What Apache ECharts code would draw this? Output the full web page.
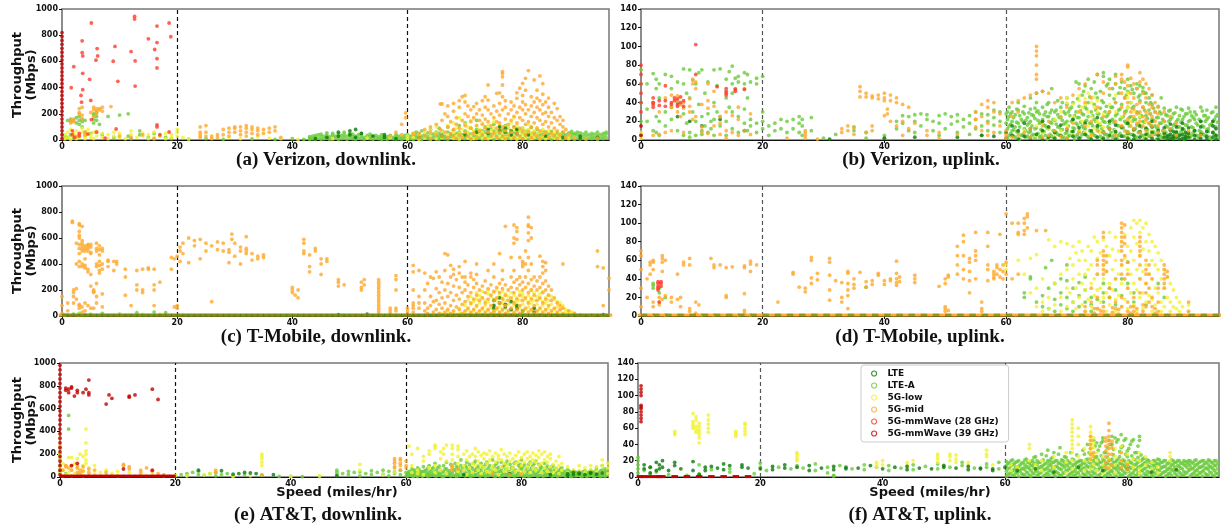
<!DOCTYPE html>
<html><head><meta charset="utf-8">
<script src="https://cdn.jsdelivr.net/npm/echarts@6/dist/echarts.min.js"></script>
<style>html,body{margin:0;padding:0;background:#fff}#c{width:1221px;height:527px}</style>
</head><body><div id="c"></div>
<script>
// ---------- categories & ticks ----------
const categories = ['LTE','LTE-A','5G-low','5G-mid','5G-mmWave (28 GHz)','5G-mmWave (39 GHz)'];
const xTicks = [0,20,40,60,80];
const xMax = 95;
const dlTicks = [0,200,400,600,800,1000];
const ulTicks = [0,20,40,60,80,100,120,140];
const speedMarks = [20,60];
const captions = ['(a) Verizon, downlink.','(b) Verizon, uplink.','(c) T-Mobile, downlink.','(d) T-Mobile, uplink.','(e) AT&T, downlink.','(f) AT&T, uplink.'];

// strips: [speed, throughput1, throughput2, ...]
// rows:   [throughput, speed1, speed2, ...]
// ---------- (a) Verizon downlink ----------
const aLTE = [[44,10],[46,20],[48,30,60],[50,40,70],[51,20,80],[52,50],[54,30],[56,20,40],[58,10],[62,20],[66,30],[70,40],[72,60],[74,50,80],[76,70,100],[77,60,90],[78,40,70],[79,80,50],[81,40],[84,30],[87,20],[90,10,30],[93,20]];
const aLTEA = [[0.5,10,30],[1,20,150],[1.5,40,160,140],[2,150,20],[2.5,170,130],[3,120,150,180],[3.5,100,140,160],[4,30,60,150],[5,50],[5.5,160,190,200,130],[6,150,180,210],[6.5,120],[7,40],[8,180],[9,20],[10,190],[11.5,200,30],[12,10],[13.5,40,70],[15,20],[16,10,50],[17,30],[18,20],[19,10],
[22,5],[25,10],[28,5],[33,8],[37,5],[40,10],[42,5],
[43,5,15,25],[43.5,10,30],[44,5,20,35],[44.5,15,40],[45,5,25,45],[45.5,10,30],[46,20,40,55],[46.5,5,25],[47,10,35,50],[47.5,15,30],[48,5,25,45],[48.5,10,35],[49,20,40,60],[49.5,5,30],[50,15,35,50],[50.5,10,25,45],[51,5,30],[51.5,15,40],[52,10,30,50],[52.5,5,20],[53,15,35],[53.5,10,25,45],[54,5,30],[54.5,15,35],[55,10,25],[55.5,5,20,40],[56,10,30],[56.5,5,25],[57,15,35],[57.5,10,20],[58,5,25,40],[58.5,10,30],[59,5,20],[59.5,15,35],
[60,5,20,40],[60.5,10,30],[61,5,25,45],[61.5,15,35,60],[62,10,20,50],[62.5,5,30,70],[63,15,40],[63.5,10,25,55],[64,5,35,80],[64.5,20,45],[65,10,30,60],[65.5,5,25,50,90],[66,15,40,70],[66.5,10,30],[67,5,20,60,100],[67.5,25,45],[68,10,35,75],[68.5,15,50],[69,5,30,60,110],[69.5,20,40],[70,10,35,70,130],[70.5,25,55],[71,5,45,90],[71.5,15,30,65],[72,10,40,80,150],[72.5,20,50],[73,5,35,70],[73.5,15,60,100],[74,10,30,55],[74.5,25,45,85],[75,5,40,70,120],[75.5,15,30,60],[76,10,50,95],[76.5,20,40,75],[77,5,30,65,110],[77.5,15,45,90],[78,10,35,60],[78.5,25,55,100],[79,5,40,80],[79.5,15,30,70],[80,10,50,90],[80.5,20,40,65],[81,5,35,75],[81.5,15,50,95],[82,10,30,60],[82.5,20,45,80],[83,5,35,55],[83.5,15,40,70],[84,10,30,60],[84.5,20,45],[85,5,35,65],[85.5,15,40],[86,10,30,55],[86.5,20,45],[87,5,35,60],[87.5,15,40],[88,10,30,55],[88.5,20,45,65],[89,5,35,50],[89.5,15,40,60],[90,10,30,55],[90.5,20,45],[91,5,35,60],[91.5,15,40],[92,10,30,50],[92.5,20,45],[93,5,35,60],[93.5,15,40],[94,10,30,50],[94.5,20,45,60]];
const aLow = [[0.5,10,40],[1,20,60],[1.5,5,80],[2,30,50],[2.5,10,70],[3,40,20],[3.5,60,90],[4,10,30],[4.5,50,80],[5,20,40],[5.5,10,60],[6,30,70],[7,20,50],[8,10,40],[9,30,60],[10,20,50],[11,10],[12,40,70],[13,20],[14,30,50],[15,10,40],[16,20,60],[17,30],[18,10,50],[19,20,40],[20,30,60,80],
[21,20],[22,10],[24,30],[26,15],[29,20],[31,10],[34,25],[36,15],[38,10],[41,5],[47,10],[53,15],[57,20],
[60,10,30],[61,20,50],[62,5,40],[63,15,60],[64,30,80],[65,10,50,100],[66,20,70],[67,40,110],[68,15,60,130],[68.5,30,90],[69,10,50,170],[69.5,25,80],[70,40,120],[70.5,15,60,100],[71,30,90,150],[71.5,10,70],[72,20,50,110],[72.5,40,80],[73,15,60,130],[73.5,30,90],[74,10,50,110],[74.5,20,70],[75,40,90,140],[75.5,15,60],[76,30,80,120],[76.5,10,50],[77,20,70,100],[77.5,40,90],[78,15,60,130],[78.5,30,80,170],[79,10,50,110],[79.5,20,70],[80,40,90],[80.5,15,60],[81,30,80,120],[81.5,10,50],[82,20,70],[82.5,40,90],[83,15,60],[83.5,30,80],[84,10,50],[84.5,20,70],[85,40],[85.5,15,60],[86,30],[86.5,10,50],[87,20],[88,10,30],[89,20],[90,10]];
const aMid = [[1.5,150,130],[2,160,140],[2.5,30],[3,200,240,210],[3.5,250,190,160],[4,60,40],[5,210],[5.5,230,250,180],[6,240,220,200],[6.5,230,240],[7,220,250],[8.5,255],[10,30],[12,20],[14,40],[16,10],
[24,20,40,60,100],[25,30,60,110],[26,10,30],[27,20,40],[28,40,80],[29,30,60,90],[30,60,90,100],[31,40,70,100],[32,30,60,90,110],[33,50,80,100],[34,40,70,90],[35,50,80],[36,60,90],[37,100,70],[38,20],
[57,30],[58,60],[59,40,120],[59.7,170,207],[61,50],
[62,20,50],[63,30,80],[64,10,60,100],[65,40,120],[65.7,275,80],[66,30,150,275],[66.5,60,200],[67,20,100,180,260],[67.5,50,140],[68,30,80,220,280],[68.5,10,120,170],[69,40,90,250,300],[69.5,20,150,330],[70,60,110,200,290,340],[70.5,30,180,260],[71,10,90,140,230],[71.5,50,170,255],[72,20,110,200,280],[72.5,70,150,230],[73,40,120,190,300],[73.5,10,90,160,250,330],[74,60,140,230,305,420],[74.5,30,110,200],[75,50,170,260],[75.5,20,90,140,220,356],[76,60,130,190,280,360],[76.5,30,100,230,330,420,483,509,522],[77,10,70,160,250,300],[77.5,40,120,200],[78,60,150,230,290],[78.5,20,100,180,260],[79,50,130,210,318,360],[79.5,30,90,170,250,395],[80,10,70,150,230,290,340,433],[80.5,40,120,200,270,380,471],[81,60,140,230,530],[81.5,20,100,180,260,330],[82,50,130,210,290,458],[82.5,30,90,170,250,320,380],[83,10,70,150,230,300,489],[83.5,40,120,200,270,350,430],[84,60,140,210,290],[84.5,20,100,180,250,320],[85,50,130,210],[85.5,30,90,170,280],[86,10,70,150,240],[86.5,40,120,178],[87,60,100,150],[87.5,20,80],[88,40],[89,20],[91,10],[93,15]];
const a28 = [[1.6,399],[2.05,560],[5.1,893],[3.5,757,667],[3.6,642,509,384],[3.3,340],[3.4,289],[4.8,463],[5.0,302],[5.1,156],[5.9,609],[6.1,698],[6.2,642],[8.9,601],[9.2,714],[9.7,448],[9.4,84],[12.0,675],[12.6,944,923],[12.7,604,412],[15.0,772],[16.1,691],[16.5,870,744,621,550,115,100],[18.6,893,61],[18.9,788],[1.8,70,40],[3,50,30],[2.2,20],[7.5,15],[4.5,45],[6,60],[17,40]];
const a39 = [[0,10,40,70,100,130,160,190,220,250,280,310,340,370,400,430,460,490,520,550,580,610,640,670,700,730,760,790,820]];

// ---------- (b) Verizon uplink ----------
const bLTE = [[6,25],[8,20],[10,15],[13,22],[17,10],[31,1],[40,2],[45,3],[52,3],[56,5],[58,4],
[60,2,8],[61,5,15],[62,1,10],[63,4,18],[64,2,12],[65,6],[66,1,10,20],[67,3,14],[68,2,8],[69,5,16],[70,1,11],[71,4,9,22],[72,2,13],[73,6,18],[74,1,10],[75,3,15,24],[76,2,8],[77,5,12,20],[78,1,9,16],[79,4,14],[80,2,7,18],[81,1,5,11],[82,3,9,15],[83,1,6,12],[84,2,8,14,20],[85,1,5,10],[86,3,7,13],[86.5,1,4],[87,2,6,11,17],[87.5,1,4,9],[88,3,8,14],[88.5,1,5],[89,2,6,12,18],[89.5,1,4,8],[90,3,7,13],[91,1,5,10],[92,2,6,14,20],[93,1,4,9],[94,3,8,15,20],[94.5,1,5,12]];
const bLTEA = [[0,5,20,40,60,75],[1,33,60,20],[2,71,40,10],[2.5,65,55,25,8],[3,20,45,60,5],[4,70,30,15],[5,55,68,35,22],[6,62,10,40],[7,76,60,28,5],[7.5,50,18],[8,75,45,8,3],[8.5,64,30],[9,60,20,5],[9.5,72,38],[10,75,25,10,6],[10.5,50,15],[11,62,28,8],[11.5,20,12],[12,75,40,22,5],[12.5,58,30],[13,76,15,25],[14,65,45,20,5],[14.5,73,35],[15,79,60,50,30,12],[15.5,66,55],[16,68,62,25,8],[17,72,60,33,18],[17.5,70,45,10],[18,62,22,15],[19,66,60,18,8],[20,20,30,12,68],
[21,15,5],[22,18,10],[23,22,12],[24,8,20],[25,22,12],[26,25,18,8],[26.5,22,15,5],[28,24,10],[30,2],[32,6],[35,10,14],[37,2,8],[40,5,2],[42,12,20],[43,26,18],[44,25,10],[45,27,20,8],[46,28,15],[47,27,22],[48,20,10],[49,26,18,5],[50,28,12],[51,25,17],[52,27,20,8],[53,22,14],[54,26,18,6],[55,30,22,12],[56,28,15,5],[57,27,20,10],[58,32,24,16],[59,30,20,8],[60,28,18],
[60.5,5,15,25,35],[61,10,20,30],[61.5,3,14,27],[62,8,18,32,40],[62.5,5,22],[63,12,28,36],[63.5,4,16,24],[64,9,20,33,45],[64.5,6,26],[65,13,30,40,50],[65.5,3,18,28],[66,8,22,35,52],[66.5,5,15,30],[67,12,25,40],[67.5,4,18,32,55],[68,9,21,30],[68.5,6,14,27,42],[69,11,24,35],[69.5,3,17,30],[70,8,20,38,45],[70.5,5,26,33],[71,13,22,40],[71.5,4,18,30,62],[72,9,24,36,60],[72.5,6,15,28,48],[73,12,20,35,58],[73.5,3,25,40,65],[74,8,18,30,55],[74.5,5,22,38,62],[75,13,28,45,70],[75.5,4,16,34,52],[76,9,20,40,68,72],[76.5,6,25,36,58],[77,12,18,30,48,65],[77.5,3,22,35,55],[78,8,26,40,60,70],[78.5,5,15,32,50],[79,13,24,38,62],[79.5,4,20,30,45,55],[80,9,18,35,52,65],[80.5,6,25,40,58],[81,12,22,36,50],[81.5,3,16,30,55,60],[82,8,24,42,48,58],[82.5,5,20,35,52,56],[83,13,26,40,50],[83.5,4,18,32,45],[84,9,22,38,48],[84.5,6,15,30],[85,12,24,36],[85.5,3,18,28,45],[86,8,20,34],[86.5,5,14,26],[87,10,22,32],[87.5,4,16,28],[88,9,20,35],[88.5,6,14,26],[89,11,22,32],[89.5,3,16,28],[90,8,20,34],[90.5,5,14,26],[91,10,22,30],[91.5,4,16],[92,9,20,35],[92.5,6,14,26],[93,11,22,32],[93.5,3,16],[94,8,20,30],[94.5,5,14,25,35],
[60.25,2,12,22,30],[60.75,7,17,28],[61.25,4,11,24],[61.75,9,19,33],[62.25,1,14,26],[62.75,6,20,30],[63.25,3,10,21],[63.75,8,18,29],[64.25,5,15,27],[64.75,2,12,23,34],[65.25,7,21,31],[65.75,4,11,19],[66.25,9,16,27],[66.75,1,13,25,38],[67.25,6,19,29],[67.75,3,10,22],[68.25,8,17,32],[68.75,5,14,24],[69.25,2,11,21,40],[69.75,7,18,28],[70.25,4,15,30],[70.75,9,20,35],[71.25,1,12,26],[71.75,6,16,24,44],[72.25,3,19,31],[72.75,8,13,27,52],[73.25,5,21,33],[73.75,2,10,18,46],[74.25,7,15,26],[74.75,4,20,32,50],[75.25,9,17,28],[75.75,1,12,23,42],[76.25,6,19,30],[76.75,3,14,27,60],[77.25,8,21,35],[77.75,5,11,19,44],[78.25,2,16,28],[78.75,7,22,33,56],[79.25,4,13,25],[79.75,9,18,31,48],[80.25,1,15,24],[80.75,6,20,34,54],[81.25,3,12,22],[81.75,8,17,29,46],[82.25,5,14,26],[82.75,2,19,32,50],[83.25,7,11,23],[83.75,4,16,28,40],[84.25,9,21,34],[84.75,1,13,24],[85.25,6,18,30],[85.75,3,10,22],[86.25,8,15,27],[86.75,5,20,31],[87.25,2,12,24],[87.75,7,17,29],[88.25,4,14,22],[88.75,9,19,33],[89.25,1,11,25],[89.75,6,16,28],[90.25,3,21,30],[90.75,8,13,24],[91.25,5,18,27],[91.75,2,10,22],[92.25,7,15,31],[92.75,4,20,26],[93.25,9,12,24],[93.75,1,17,29],[94.25,6,14,22],[94.75,3,19,27]];
const bLow = [[0,2,8],[63,10],[65,5,15],[66,8,20],[67,12],[68,4,22],[69,10,30],[70,15,40,45],[71,5,25,38],[72,10,30,42,47],[72.5,20,35],[73,8,38,44],[73.5,15,30,50],[74,5,25,40],[74.5,12,35,46],[75,20,30,42],[75.5,8,18],[76,14,28],[77,5,20,38],[78,10,30,48],[79,15,25],[80,5,35,45,50],[80.5,20,40],[81,10,30],[82,15,25],[83,5,20],[84,10],[85,8],[86,5],[88,3],[90,6]];
const bMid = [[2,5,40],[3,6,30],[4,8,45],[5,35,48,10],[6,30,42,47],[6.5,38,25],[7,34,40,8],[8,44,30,36],[8.5,22,60,65],[9,25,55,62],[10,38,8,14],[11,60,34,42,7],[12,52,36,15],[13,18,25,6],[14,30,10,2],[15,26,8],[16,35,5,22],[17,55,10],[18,28,6],
[24,2],[27,2,5,8,10],[29,1],[33,12,8],[34,15,10],[35,13,6],[36,57,52,46],[37,46,50,8],[38,47,45,10,15],[39,48,44],[40,50,45,42,26],[40.5,33,28],[41,48,42,20],[42,45,40,15],[43,38,20,5],[44,35,12],[45,18],[47,10,5],[49,2,8],[52,6],[55,30,22,14],[56,38,25,10],[57,42,35,18,5],[58,40,30,8],[59,28,15],
[60,2,5,10],[61,40,25,3],[62,42,30,5],[63,45,8],[64,48,12,3],[65,100,95,90,80,70,65,50],[66,52,15,3],[67,50,20,5],[68,40,10],[69,45,25,4],[70,35,12,2],[71,48,18],[72,55,30,8],[73,60,40,15],[74,45,20,5],[75,70,35,10],[76,62,50,25,8],[77,55,30,12],[78,68,60,40,20,5],[79,70,65,50,35,15],[79.5,62,45,28,10],[80,80,78,58,40,22,8],[80.5,66,50,30,15],[81,60,45,33,25,12],[81.5,55,38,28,18],[82,72,62,40,30,20,8],[82.5,65,50,35,25,15],[83,60,45,30,22,10],[83.5,55,38,28,18],[84,48,35,25,15,5],[84.5,40,30,20],[85,35,28,15,8],[86,30,20,10],[87,25,12],[88,18,5],[90,10],[92,5]];
const b28 = [[0,30,40,50,60,70,80],[2,40,45,38,35],[3,37,42],[4,58,36,42],[5,40,38],[5.5,45,42],[6,44,38,36],[6.5,40,46],[7,36,42],[9,102,70],[12.5,57],[14,52,50,48,55],[15.5,52,54],[17,54]];
const b39 = [[0,5,15]];

// ---------- (c) T-Mobile downlink ----------
const cLTE = [[48,10],[53,15],[75,120,80,60],[76,100,140],[77,70,90],[78,50,110],[79,60,80],[80,40],[82,30,60],[94,10]];
const cLTEA = [[0.5,10],[2,15],[3,5,20],[4,8],[5,12],[7,20],[10,15],[13,25],[16,30],[18,25],[75,30],[80,20]];
const cLow = [[0.5,8],[3,15],[10,10],[14,12],[17,15],
[66,5,20],[67,15,40],[68,10,30],[69,20,60],[70,30,80,10],[70.5,50,120],[71,20,90,150],[71.5,40,110],[72,10,70,130,180],[72.5,30,100,160],[73,50,140,190],[73.5,20,80,120],[74,40,110,170,200],[74.5,10,60,150],[75,30,90,130,180],[75.5,50,120,200],[76,20,70,160],[76.5,40,100,140,190],[77,10,60,120,170],[77.5,30,90,150],[78,50,130,180],[78.5,20,80,110,160],[79,40,100,140],[79.5,10,60,120,190],[80,30,90,150,170],[80.5,50,130],[81,20,70,110,160],[81.5,40,100,140,200],[82,10,60,120,180],[82.5,30,90,150],[83,50,130,170],[83.5,20,80,110,190],[84,40,100,140],[84.5,10,60,120,160],[85,30,90,150],[85.5,50,130],[86,20,70,110],[86.5,40,100],[87,10,60,80],[87.5,30,50],[88,20,40],[88.5,10,30],[89,20],[90,10],[92,8],[94,5]];
const cMid = [[0,20,80,150],[1,40,100],[1.8,720,730],[2,100,180,200,150],[2.5,130,210,400,560],[3,380,420,480,520,550,600,620,650,700,710,60,80,90],[3.5,400,500,520,540,560,580,690,380,70,30],[4,390,440,500,520,540,370,100,40],[4.5,500,520,540,550,360,340,80],[5,490,530,550,480,320,230,60],[5.5,180,200,190,60],[6,500,520,560,380,400,250,150,100],[6.5,350,390,420,510,540,470,330],[7,360,400,500,520,170,70],[8,380,430,420],[9,350,420],[9.5,420,400],[11,300,360,160],[12,80],[13,350,240,200],[14,360,200,180],[15,370,360],[16,360,240,200,80],[17,260],[19,360,450],[19.5,440,70],[20,80,60,460],
[20.5,530,500,420],[21,560,480],[22,600,410],[23,580,540],[24,590,440],[25,560,500],[26,540,110],[27,510,570],[28,500,560],[29,490,510,410],[29.5,630,590],[30,560,460],[31,400,500,530],[32,610,520,480,500],[33,430,480],[34,460,440],[35,470,450],
[40,220,200,180],[40.5,160],[41,200,140],[42,590,560,500,480],[43,470,380,340],[44,520,500],[45,440,400,320],[46,440,420],[48,280,260,230],[49,240],
[52,200,220,260],[52.5,280,240],[55,280,260,240,220,200,180,160,140,120,100,80,60,40,20],[57,60,40,20],[58,310,280,200,60,40],[60,60,40,20],[61,390,340,200,100,80,60,30],[62,350,150,100,60],
[63,40,100,200,330],[63.5,20,60,250],[64,80,150,300],[64.5,30,110,290],[65,50,120,210,340],[65.5,20,90,180,300],[66,60,140,260],[66.5,30,100,200,350,480],[67,50,150,250,470],[67.5,20,80,180,300,390],[68,40,120,230,320,360],[68.5,10,70,160,280],[69,50,130,220,330,380],[69.5,20,90,180,300],[70,40,110,200,260,300,420],[70.5,10,60,150,240],[71,30,100,180,300,330],[71.5,50,130,220,280],[72,20,80,160,250,320,400],[72.5,40,120,200],[73,10,60,140,230],[73.5,30,100,180,270],[74,50,130,210,350],[74.5,20,80,160,240],[75,40,120,190,300,400],[75.5,10,60,140,220],[76,30,100,180,250,480],[76.5,50,130,210,280,350],[77,20,80,160,240,690],[77.5,40,120,200],[78,10,60,140,220,300,450],[78.5,30,100,180,260,350,560,600,700],[79,50,130,210,280,590,650,680],[79.5,20,80,160,240,300,450],[80,40,120,200,260,380,400,420],[80.5,10,60,140,220,300,400,500],[81,30,100,180,250,350,450,580,640,690,700,760],[81.5,50,130,200,280,400,600,680],[82,20,80,160,230,300],[82.5,40,120,200,270],[83,10,60,140,220,300,460],[83.5,30,100,180,250,330,380,420],[84,50,130,200,270,350,410],[84.5,20,80,160,230],[85,40,120,200],[85.5,10,60,140],[86,30,100],[86.5,50,80],[87,20,60,400],[88,40],[89,20],[93,380,500],[94,370,80],[95,290,200]];
const c28 = [];
const c39 = [];
const cMidRow = [7,0,1,2,3,4,5,6,7,8,9,10,11,12,13,14,15,16,17,18,19,20,21,22,23,24,25,26,27,28,29,30,31,32,33,34,35,36,37,38,39,40,41,42,43,44,45,46,47,48,49,50,51,52,53,54,55,56,57,58,59,60,61,62,63,64,65,66,67,68,69,70,71,72,73,74,75,76,77,78,79,80,81,82,83,84,85,86,87,88,89,90,91,92,93,94,95];
const cLTERow = [7,0.5,1.5,2.5,3.5,4.5,5.5,6.5,7.5,8.5,9.5,10.5,11.5,12.5,13.5,14.5,15.5,16.5,17.5,18.5,19.5,20.5,21.5,22.5,23.5,24.5,25.5,26.5,27.5,28.5,29.5,30.5,31.5,32.5,33.5,34.5,35.5,36.5,37.5,38.5,39.5,40.5,41.5,42.5,43.5,44.5,45.5,46.5,47.5,48.5,49.5,50.5,51.5,52.5,53.5,54.5,55.5,56.5,57.5,58.5,59.5,60.5,61.5,62.5,63.5,64.5,65.5,66.5,67.5,68.5,69.5,70.5,71.5,72.5,73.5,74.5,75.5,76.5,77.5,78.5,79.5,80.5,81.5,82.5,83.5,84.5,85.5,86.5,87.5,88.5,89.5,90.5,91.5,92.5,93.5,94.5];

// ---------- (d) T-Mobile uplink ----------
const dLTE = [];
const dLTEA = [[2,35,33,30,1],[3,25,30],[4,20,1],[10,1],[12,1],[16,1],[18,1],[37,31],[63,20,25],[64,40,42],[65,15],[66,22,10],[66.5,52],[67,30,8],[67.5,60],[68,35,18,5],[69,40,25,12],[70,38,20,8,55],[71,30,15,5],[72,36,22,10],[73,42,28,15],[74,20,12,5],[75,18,8],[76,35,25,15],[77,30,20],[78,28,12],[79,40,22],[80,58,35],[81,25,15],[83,12],[85,35],[86,20]];
const dLow = [[60,55,50],[62,60],[63,45],[64,62,25],[65,66,30,10],[66,15,5,40],[67,82,20,8],[68,75,35,12],[69,80,45,20,5],[70,78,50,30,10],[70.5,62,25],[71,75,55,40,15],[71.5,68,30,8],[72,80,60,45,20],[72.5,70,35,12],[73,60,45,28,5],[73.5,75,50,18],[74,70,55,35,10],[74.5,85,40,22],[75,80,62,45,28,8],[75.5,68,30,15],[76,82,55,40,20],[76.5,75,48,25,5],[77,90,65,35,12],[77.5,72,50,28],[78,85,60,40,18,5],[78.5,70,45,22],[79,80,55,35,10],[79.5,88,62,40,18],[80,75,50,30,8],[80.5,95,70,45,25],[81,103,85,60,35,12],[81.5,100,78,50,28,5],[82,103,90,65,40,20],[82.5,95,72,48,25,8],[83,100,80,55,35,15],[83.5,88,70,45,22],[84,80,60,40,18,5],[84.5,75,55,30,12],[85,68,50,25],[85.5,60,40,15,5],[86,50,30,10],[86.5,42,20],[87,35,15,5],[87.5,28,10],[88,20,8],[88.5,15,5],[89,10],[90,12,5]];
const dMid = [[0,10,30,50,65,70],[1,20,40],[1.5,58,55,45],[2,60,58,50,15,10],[3,20,15,12],[3.5,65,62,58,48,18],[4,60,22],[5,20,15],[6,45,18],[6.5,20,10],[7,58,55],[8,62,55,8,5],[9,15,3],[9.5,12],[11.5,62],[12,55,52],[13,55],[14,52,22,20],[15,53],[17,54,52,24,6,3],[18,59,48,56],[19,55],
[22.5,15],[25,47,45],[26,31],[27,30,26],[28,63,60,41,35],[29,46,39],[31,62,58,44,28,17],[32,38],[33,36,20,15],[34,48,46,35,28,22,8],[35,40,34,30],[36,47],[37,37,31],[38,38,34],[39,44,46],[40,38,34],[41,40,38],[42,59,46,40,36,33],[42.5,42,37],[45,44,40,36],[49,32],[50,40,35,10,8,5],[50.5,42,44,6],
[52,75,65,55,45],[53,87,80,65,50,40],[54,62,58,48,38,25],[55,90,70,65,60,40],[56,8,5,15],[57,90,75,55,50,38],[58,48,42,40,45],[58.5,52,55,45],[59,88,50,42],[59.5,48,40,55],[60,110,58,45],[61,100,40],[62,100,90,88,45],[63,105,100,92,88],[63.5,110,107,95],[65,92],[66.5,92],
[73,10,5],[74,30,15],[74.5,3,8],[75,60,55,45,20,8],[75.5,2,6],[76,90,85,70,65,60,55,50,45,10,5],[76.5,65,58,48],[77,30,20],[77.5,4,9],[78,40,15,8],[78.5,2,7],[79,100,95,90,85,80,75,70,60,55,45,20,10],[79.5,98,85,78,65,40],[80,58,45,30,15,5],[80.5,3,10],[81,20,10,5],[81.5,2,8],[82,85,80,75,70,65,55,40,25],[82.5,5,12],[83,60,50,45,35,25,10],[83.5,55,45,30,15],[84,40,20,10],[84.5,3,8],[85,30,15,5],[86,55,50,45,40,35,30],[86.5,48,42],[90,15,5]];
const d28 = [[2.8,37,35,32,30,28],[3.3,37,35,32],[3,15]];
const d39 = [];
const dMidRow = [1,0,1,2,3,4,5,6,7,8,9,10,11,12,13,14,15,16,17,18,19,20,21,22,23,24,25,26,27,28,29,30,31,32,33,34,35,36,37,38,39,40,41,42,43,44,45,46,47,48,49,50,51,52,53,54,55,56,57,58,59,60,61,62,63,64,65,66,67,68,69,70,71,72,73,74,75,76,77,78,79,80,81,82,83,84,85,86,87,88,89,90,91,92,93,94,95];
const dLTERow = [1,0.5,2.5,4.5,6.5,8.5,10.5,12.5,14.5,16.5,18.5,20.5,22.5,24.5,26.5,28.5,30.5,32.5,34.5,36.5,38.5,40.5,42.5,44.5,46.5,48.5,50.5,52.5,54.5,56.5,58.5,60.5,62.5,64.5,66.5,68.5,70.5,72.5,74.5,76.5,78.5,80.5,82.5,84.5,86.5,88.5,90.5,92.5,94.5];

// ---------- (e) AT&T downlink ----------
const eLTE = [[24,60],[28,55],[30,25],[31,30],[32,40],[33,35],[34,30],[37,20],[48,10],[70,20],[78,30],[85,20],[88,30,15],[89,40,20],[90,35,25],[91,20],[92,30,40],[93,25],[94,35]];
const eLTEA = [[1.5,540,420],[0,50,100,150,200,250],[1,30],[20,10],[21,20],[22,30,10],[23,40],[24,20,50],[25,15],[26,30],[27,40,10],[28,20],[29,30],[30,10],[32,20],[35,15],[38,5],[40,5],[42,3],[45,5],[48,20,40,60],[49,30],[50,50,20],[51,40],[52,45,10],[53,30],[54,55,20],[55,40],[56,60,25],[57,50,10],[58,45,30],[59,60,20],[60,40,10],
[60.5,20,50],[61,10,40,70],[61.5,30,60],[62,5,35,80],[62.5,20,50],[63,10,45,90],[63.5,30,60],[64,15,40,100],[64.5,25,70],[65,10,50,120],[65.5,35,80],[66,20,60],[66.5,5,45,100],[67,30,70,130],[67.5,15,55],[68,40,90],[68.5,10,60,120],[69,25,80],[69.5,45,100,150],[70,15,60],[70.5,30,85,130],[71,10,50,110],[71.5,35,75],[72,20,60,140],[72.5,45,95],[73,10,55,120],[73.5,30,80],[74,15,60,130],[74.5,40,100],[75,20,70,150],[75.5,5,50,110],[76,35,85],[76.5,15,60,130],[77,40,100],[77.5,20,70,140],[78,10,50,110],[78.5,35,85],[79,15,60,130],[79.5,40,100],[80,20,70,150],[80.5,5,50,110],[81,35,85],[81.5,15,60,130],[82,40,100],[82.5,20,70,140],[83,10,50,110],[83.5,35,85],[84,15,60,120],[84.5,40,95],[85,20,70],[85.5,10,50,100],[86,30,75],[86.5,15,55],[87,35,80],[87.5,10,50],[88,25,65],[88.5,5,40],[89,20,55],[89.5,10,35],[90,25,50],[90.5,5,40],[91,20,55],[91.5,10,35],[92,25,60],[92.5,5,40],[93,20,55,80],[93.5,10,35],[94,25,60,100],[94.5,5,40,70],
[60.25,8,30],[60.75,15,45],[61.25,5,25,55],[61.75,12,40],[62.25,20,65],[62.75,8,30,45],[63.25,15,55],[63.75,5,25,75],[64.25,12,50],[64.75,20,35,85],[65.25,8,60],[65.75,15,30,95],[66.25,5,45],[66.75,12,70],[67.25,20,40],[67.75,8,30,110],[68.25,15,65],[68.75,5,35,90],[69.25,12,55],[69.75,20,75],[70.25,8,40,100],[70.75,15,65],[71.25,5,30,85],[71.75,12,50,120],[72.25,20,80],[72.75,8,35,65],[73.25,15,90],[73.75,5,50,110],[74.25,12,35,80],[74.75,20,60],[75.25,8,40,95],[75.75,15,70,125],[76.25,5,50],[76.75,12,35,90],[77.25,20,65,115],[77.75,8,45],[78.25,15,80],[78.75,5,55,120],[79.25,12,40],[79.75,20,75,110],[80.25,8,35,90],[80.75,15,60],[81.25,5,45,110],[81.75,12,80],[82.25,20,55,120],[82.75,8,40],[83.25,15,70,95],[83.75,5,45],[84.25,12,30,80],[84.75,20,60],[85.25,8,45,90],[85.75,15,65],[86.25,5,40],[86.75,12,30,70],[87.25,20,50],[87.75,8,35],[88.25,15,50],[88.75,5,30],[89.25,12,45],[89.75,20,40],[90.25,8,30],[90.75,15,45],[91.25,5,30],[91.75,12,45],[92.25,20,40],[92.75,8,50],[93.25,15,40],[93.75,5,55],[94.25,12,40],[94.75,20,50]];
const eLow = [[0,30,80,150,200,280,340],[0.5,10,60,120],[1,20,100],[1.5,40,170],[2,10,60,170],[2.5,30,120],[3,20,80,160],[3.5,40,200],[4,10,60,100,180],[4.5,420,300,230,200,150,120],[5,20,80],[6,30,100],[7,40],[8,60,20],[9,30],[10,10,50],[12,40],[14,20],[16,30],[18,10],[20,15],
[22,10],[25,20],[26,30],[30,5],[33,10],[35,200,180,160,130,100],[40,5],[45,10],[52,110,60],[56,20],[58,40],
[60.5,270],[61,40,100,200],[62,60,250,30],[63,20,140,180],[64,80,200,230],[65,100,270,280,250,40],[66,60,160,220],[66.5,250,200],[67,30,140,280],[68,90,280,250,200,150],[69,50,120,270,240,180],[70,100,200,60],[70.5,20,150,230],[71,80,180],[71.5,40,120,200],[72,100,250,180],[72.5,60,140,220],[73,30,190,100],[73.5,80,160,210],[74,120,200,50],[74.5,40,150,230],[75,100,180,70],[75.5,60,130,210],[76,20,160,190],[76.5,90,150,240],[77,50,120,200],[77.5,100,180,70],[78,40,140,210],[78.5,80,160],[79,120,190,50],[79.5,60,140,220],[80,100,170,30],[80.5,50,130,200],[81,90,160,220],[81.5,40,120,180],[82,80,150,210],[82.5,60,130,190],[83,100,170,230],[83.5,40,120,200],[84,80,150,220],[84.5,50,130,180],[85,90,160,200],[85.5,40,110],[86,70,140],[86.5,30,100,180],[87,60,120],[88,40,90],[89,30,60],[90,20,50,100],[91,40,80],[92,30,60,100],[93,50,90],[94,40,100,150],[95,30,80,120]];
const eMid = [[0.5,60],[1,100,90],[1.5,80],[2,60,100],[3,40,80,100],[3.5,30,60],[4,50,90],[5,70,40],[6,60],[8,40],[11,110,100],[12,90,70],[14,60,40],[15,80],[16,50],[17,30],[18,20],[27,40,60],[35,20],[58,160,140,120,90,80],[59,160,150,120,100,60],[60,140,100,80],[68,100,80,60],[69,70],[75,30],[78,20],[80,25]];
const e28 = [];
const e39 = [[0,20,60,100,140,180,220,260,300,340,380,420,460,500,540,580,620,660,700,740,780,820,860,900,940,980],[1,780,760],[1.5,740,770],[2,790,780,100],[2.5,710],[3,760,740,120],[4,740],[4.5,770],[5,850,740,720],[8,640],[8.5,720],[9,690],[11,70],[12,710,700],[13,720],[16,770,60],[17,680]];
const e39Row = [8,0.5,1.5,2.5,3.5,4.5,5.5,6.5,7.5,8.5,9.5,10.5,11.5,12.5,13.5,14.5,15.5,16.5,17.5,18.5,19.5];

// ---------- (f) AT&T uplink ----------
const fLTE = [[1,10,15],[2,5,12],[3,18,8],[3.5,15,10],[4,20,12],[5,8],[6,14,18],[7,10],[9,19,8],[10,3],[11,12,8],[12,13],[13,11],[14,16,9],[15,14],[17,15,12],[18,11],[20,10],[22,13,9],[24,15,11],[26,12],[28,14,8],[30,11],[32,9,13],[34,12,10],[36,11],[38,14],[40,10],[42,12],[44,9,13],[46,11],[48,10],[50,14,12],[52,11],[54,9,13],[56,11,10],[58,10,8],[60,12],[62,8],[65,10],[68,6],[72,12],[76,8],[80,10],[84,6],[88,9]];
const fLTEA = [[0,15,20,24,10,5],[1,8],[2,12,4],[3,6],[5,3],[8,2],[10,15,4],[12,9],[15,6,10],[19,4],[20,17,12],[21,8],[23,12],[25,10],[26,14],[27,11],[29,16,8],[31,12,5],[32,2,1],[33,14],[35,10],[37,15,9],[39,12],[41,14,8],[43,11],[45,15,9],[47,13],[49,16,10],[51,12],[53,18,14],[55,11],[57,16,12],[59,18,10],
[60.5,3,10,17],[61,6,14,20],[61.5,2,9,16],[62,5,12,19],[62.5,8,15],[63,3,11,18],[63.5,6,13,22],[64,2,10,17],[64.5,5,14,20],[65,8,16,25],[65.5,3,11,18],[66,6,13,28],[66.5,2,9,16],[67,5,12,20,33],[67.5,8,15,22],[68,3,11,18,30],[68.5,6,13,20],[69,2,10,17,36],[69.5,5,14,20],[70,8,16,24],[70.5,3,11,18],[71,6,13,22],[71.5,2,9,16],[72,5,12,19],[72.5,8,15,20],[73,3,11,18,28],[73.5,6,13,22,40],[74,2,10,17,35],[74.5,5,14,20,45],[75,8,16,25,42],[75.5,3,11,18,38],[76,6,13,22,48,44],[76.5,2,9,16,30],[77,5,12,20,45],[77.5,8,15,22,50,40],[78,3,11,18,48],[78.5,6,13,22,46],[79,2,10,17,52,36],[79.5,5,14,20,45],[80,8,16,25,32],[80.5,3,11,18,40],[81,6,13,22,46],[81.5,2,9,16,30],[82,5,12,20,45,50],[82.5,8,15,22],[83,3,11,18],[83.5,6,13,20],[84,2,10,17],[84.5,5,14,20],[85,8,16,22],[85.5,3,11,18],[86,6,13,20],[86.5,2,9,16],[87,5,12,19],[87.5,8,15,20],[88,3,11,18],[88.5,6,13,20],[89,2,10,17],[89.5,5,14,19],[90,8,16,20],[90.5,3,11,18],[91,6,13,20],[91.5,2,9,16],[92,5,12,19],[92.5,8,15,20],[93,3,11,18],[93.5,6,13,20],[94,2,10,17],[94.5,5,14,20],
[60.25,1,7,14,19],[60.75,4,11,17],[61.25,2,8,15,21],[61.75,5,12,18],[62.25,1,7,13,20],[62.75,4,10,17],[63.25,2,9,15,21],[63.75,5,12,18],[64.25,1,8,14,19],[64.75,4,11,17,24],[65.25,2,7,15,20],[65.75,5,12,18],[66.25,1,9,14,21],[66.75,4,10,17,26],[67.25,2,8,15,19],[67.75,5,12,18,24],[68.25,1,7,13,20],[68.75,4,11,17,28],[69.25,2,9,15,21],[69.75,5,12,18,25],[70.25,1,8,14,20],[70.75,4,10,17,30],[71.25,2,7,15,21],[71.75,5,12,18,27],[72.25,1,9,14,20],[72.75,4,11,17,33],[73.25,2,8,15,21],[73.75,5,12,18,30],[74.25,1,7,13,20,28],[74.75,4,10,17,24,38],[75.25,2,9,15,21,33],[75.75,5,12,18,26,42],[76.25,1,8,14,20,30],[76.75,4,11,17,24,36],[77.25,2,7,15,21,40],[77.75,5,12,18,27,34],[78.25,1,9,14,20,43],[78.75,4,10,17,25,31],[79.25,2,8,15,21,38],[79.75,5,12,18,28,47],[80.25,1,7,13,20,35],[80.75,4,11,17,26,44],[81.25,2,9,15,21,30],[81.75,5,12,18,24,38],[82.25,1,8,14,20,27],[82.75,4,10,17,23],[83.25,2,7,15,21],[83.75,5,12,18],[84.25,1,9,14,20],[84.75,4,11,17],[85.25,2,8,15,21],[85.75,5,12,18],[86.25,1,7,13,20],[86.75,4,10,17],[87.25,2,9,15,21],[87.75,5,12,18],[88.25,1,8,14,20],[88.75,4,11,17],[89.25,2,7,15,20],[89.75,5,12,18],[90.25,1,9,14,20],[90.75,4,10,17],[91.25,2,8,15,21],[91.75,5,12,18],[92.25,1,7,13,20],[92.75,4,11,17],[93.25,2,9,15,21],[93.75,5,12,18],[94.25,1,8,14,20],[94.75,4,10,17]];
const fLow = [[6,52,54,56],[9,60,62,65,68,78],[9.5,55,58,62,70,74],[10,42,48,52,55,58,62,66],[11.5,55,60,65,70,76],[16,50,52,54,56],[17.5,52,56,60,64,66],[26,20,22,25,28,30],[39,12,15,18],[40,15,20],[44,15,18],[45,20],[49,18,22,25,28],[50,15],[51,20,25,28],[52,18,22,27],[54,15,18],[57,25,28,33],[58,15],
[61,8,15],[62,12],[64,40,35,20],[65,15,10],[66,8,20],[68,12,25],[70,5,18,30],[71,70,65,60,55,50,45,40,35,30,20,10],[72,60,50,40,25,12],[73,35,20,8],[74,62,55,50,45,40,35,30,25,20,10],[74.5,48,42,36,28,15],[75,30,20,8],[76,25,15,5],[77,22,12],[78,35,25,15,5],[79,38,30,20],[80,28,18,8],[81,22,12],[82,30,20,10,5],[83,25,15],[84,18,10],[85,12,5],[87,30,25,20],[88,10]];
const fMid = [[74,50,45,40,35,28,22],[74.5,30,25],[76.5,48,44,38,32,25,18,12],[77,66,57,50,45,40,35,28,20,10],[77.5,44,36,28,15],[79,30,20,12],[80,15,10]];
const f28 = [];
const f39 = [[0.5,68,72,76,80,84,86,88,100,104,108,112]];
const f39Row = [0.5,0.3,1,2,3,3.5,4,6,8,10,12,14,16,18];

// ---------- build ----------
const colors = ['#0b7a0b','#6acb3a','#f3f332','#ffa92e','#ff3b2c','#c30000'];
const zOrder = [4,2,3,5,6,7];
function strips(arr){const o=[];arr.forEach(s=>{for(let i=1;i<s.length;i++)o.push([s[0],s[i]]);});return o;}
function row(r){const o=[];for(let i=1;i<r.length;i++)o.push([r[i],r[0]]);return o;}

const panels = [
  {grid:{left:62,top:9,width:547,height:131}, ticks:dlTicks, data:[aLTE,aLTEA,aLow,aMid,a28,a39], rows:[], dash:'#111', cap:[326,160]},
  {grid:{left:641,top:9,width:578,height:131}, ticks:ulTicks, data:[bLTE,bLTEA,bLow,bMid,b28,b39], rows:[], dash:'#555', cap:[921,160]},
  {grid:{left:62,top:186,width:547,height:130}, ticks:dlTicks, data:[cLTE,cLTEA,cLow,cMid,c28,c39], rows:[[3,cMidRow,1],[0,cLTERow,0.55]], dash:'#111', cap:[316,337]},
  {grid:{left:641,top:186,width:578,height:130}, ticks:ulTicks, data:[dLTE,dLTEA,dLow,dMid,d28,d39], rows:[[3,dMidRow,1],[0,dLTERow,0.45]], dash:'#555', cap:[920,337]},
  {grid:{left:60,top:363,width:548,height:114}, ticks:dlTicks, data:[eLTE,eLTEA,eLow,eMid,e28,e39], rows:[[5,e39Row,1]], dash:'#111', cap:[318,515]},
  {grid:{left:638,top:363,width:581,height:114}, ticks:ulTicks, data:[fLTE,fLTEA,fLow,fMid,f28,f39], rows:[[5,f39Row,1]], dash:'#555', cap:[920,515]}
];

const grids=[],xAxes=[],yAxes=[],series=[],graphics=[];
const lab = {fontFamily:'DejaVu Sans',fontWeight:'bold',fontSize:8,color:'#111'};
panels.forEach((p,i)=>{
  grids.push(Object.assign({show:true,borderColor:'#777',borderWidth:1.5,containLabel:false},p.grid));
  xAxes.push({type:'value',gridIndex:i,min:xTicks[0],max:xMax,interval:xTicks[1]-xTicks[0],
    axisLine:{show:true,onZero:false,lineStyle:{color:'#111',width:1.2}},axisTick:{show:true,length:3,lineStyle:{color:'#111'}},
    axisLabel:Object.assign({margin:3,showMaxLabel:false,formatter:v=>String(v)},lab),splitLine:{show:false}});
  yAxes.push({type:'value',gridIndex:i,min:p.ticks[0],max:p.ticks[p.ticks.length-1],interval:p.ticks[1]-p.ticks[0],
    axisLine:{show:true,lineStyle:{color:'#888',width:1.5}},axisTick:{show:true,length:3,lineStyle:{color:'#111'}},
    axisLabel:Object.assign({margin:4,formatter:v=>String(v)},lab),splitLine:{show:false}});
  p.data.forEach((d,k)=>{
    const s={name:categories[k],type:'scatter',xAxisIndex:i,yAxisIndex:i,data:strips(d),symbol:'circle',symbolSize:3.8,
      itemStyle:{color:colors[k]},silent:true,z:zOrder[k]};
    if(k===0){s.markLine={silent:true,symbol:'none',label:{show:false},lineStyle:{type:[4,3],color:p.dash,width:1.2},data:speedMarks.map(v=>({xAxis:v})),z:1};}
    series.push(s);
  });
  p.rows.forEach(([k,r,op])=>{
    series.push({name:categories[k],type:'scatter',xAxisIndex:i,yAxisIndex:i,data:row(r),symbol:'rect',symbolSize:[6.5,3],
      itemStyle:{color:colors[k],opacity:op},silent:true,z:9});
  });
  graphics.push({type:'text',x:p.cap[0],y:p.cap[1],style:{text:captions[i],fontFamily:'Liberation Serif',fontWeight:'bold',fontSize:19,fill:'#111',align:'center',verticalAlign:'middle'}});
});
// axis titles
[[25,75],[25,251],[25,420]].forEach(c=>{
  graphics.push({type:'text',x:c[0],y:c[1],rotation:Math.PI/2,style:{text:'Throughput\n(Mbps)',fontFamily:'DejaVu Sans',fontWeight:'bold',fontSize:13,lineHeight:14,fill:'#111',align:'center',verticalAlign:'middle'}});
});
[[337,493],[930,493]].forEach(c=>{
  graphics.push({type:'text',x:c[0],y:c[1],style:{text:'Speed (miles/hr)',fontFamily:'DejaVu Sans',fontWeight:'bold',fontSize:13,fill:'#111',align:'center',verticalAlign:'middle'}});
});

const chart = echarts.init(document.getElementById('c'),null,{renderer:'canvas'});
chart.setOption({
  animation:false,
  grid:grids,xAxis:xAxes,yAxis:yAxes,series:series,graphic:graphics,
  legend:{orient:'vertical',left:861,top:365,padding:[4,10,4,10],itemGap:3,itemWidth:5,itemHeight:5,
    backgroundColor:'#fff',borderColor:'#ccc',borderWidth:1,borderRadius:3,
    textStyle:{fontFamily:'DejaVu Sans',fontWeight:'bold',fontSize:9,color:'#111',padding:[0,0,0,6]},
    data:categories.map((n,k)=>({name:n,icon:'circle',itemStyle:{color:'#fff',borderColor:colors[k],borderWidth:1.2}}))
  }
});
</script></body></html>
